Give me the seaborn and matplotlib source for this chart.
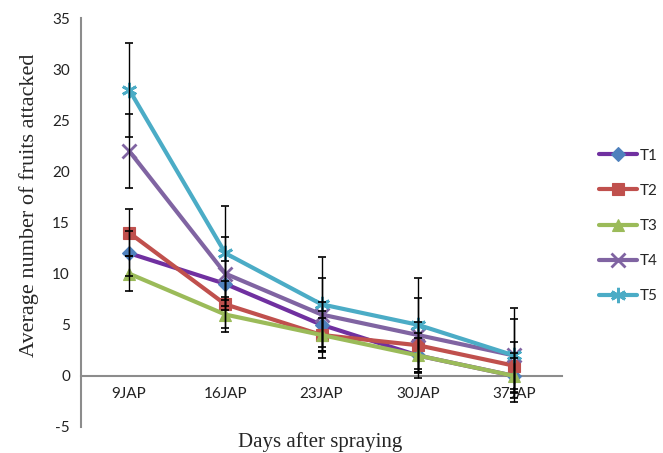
import matplotlib
matplotlib.use("Agg")
import matplotlib.pyplot as plt
import seaborn as sns
import pandas as pd
import numpy as np

days = ["9JAP", "16JAP", "23JAP", "30JAP", "37JAP"]
series = ["T1", "T2", "T3", "T4", "T5"]
t1 = [12, 9, 5, 2, 0]
t2 = [14, 7, 4, 3, 1]
t3 = [10, 6, 4, 2, 0]
t4 = [22, 10, 6, 4, 2]
t5 = [28, 12, 7, 5, 2]
errors = [2.2, 2.3, 1.7, 3.6, 4.6]  # error bar half-length per series (read)
yticks = [-5, 0, 5, 10, 15, 20, 25, 30, 35]

values = [t1, t2, t3, t4, t5]
line_colors = ["#7030A0", "#C0504D", "#9BBB59", "#8064A2", "#4BACC6"]
face_colors = ["#4F81BD", "#C0504D", "#9BBB59", "#8064A2", "#4BACC6"]
markers = ["D", "s", "^", "x", (6, 2, 0)]
msizes = [7, 9, 9, 10, 11]

sns.set_style("white")
plt.rcParams["font.family"] = ["Lato", "DejaVu Sans"]

fig = plt.figure(figsize=(6.63, 4.53), dpi=100)
ax = fig.add_axes([81 / 663, 1 - 427 / 453, (562 - 81) / 663, (427 - 18) / 453])

rows = []
for s, vals in zip(series, values):
    for i, (d, v) in enumerate(zip(days, vals)):
        rows.append({"Day": d, "pos": i, "Value": v, "Series": s})
df = pd.DataFrame(rows)

for k, s in enumerate(series):
    sub = df[df["Series"] == s]
    sns.lineplot(data=sub, x="pos", y="Value", ax=ax, color=line_colors[k],
                 linewidth=3.0, marker=markers[k], markersize=msizes[k],
                 markerfacecolor=face_colors[k], markeredgecolor=face_colors[k],
                 markeredgewidth=2.0 if markers[k] in ("x",) or isinstance(markers[k], tuple) else 0.8,
                 label=s, zorder=3 + k)
    ax.errorbar(sub["pos"], sub["Value"], yerr=errors[k], fmt="none",
                ecolor="black", elinewidth=1.0, capsize=3.0, capthick=1.2, zorder=10)

ax.set_xlim(-0.5, 4.5)
ax.set_ylim(-5, 35)
ax.set_yticks(yticks)
ax.set_yticklabels([str(t) for t in yticks], fontsize=11, color="#222222")

# x-axis at y=0 with ticks between categories
ax.spines["bottom"].set_position(("data", 0))
ax.spines["top"].set_visible(False)
ax.spines["right"].set_visible(False)
for sp in ("left", "bottom"):
    ax.spines[sp].set_color("#8C8C8C")
    ax.spines[sp].set_linewidth(1.5)
ax.set_xticks(np.arange(-0.5, 5, 1.0))
ax.set_xticklabels([])
ax.set_xticks(range(len(days)), minor=True)
ax.set_xticklabels(days, minor=True, fontsize=11, color="#222222")
ax.tick_params(axis="x", which="major", direction="out", length=5, width=1.3, color="#8C8C8C")
ax.tick_params(axis="x", which="minor", length=0, pad=8)
ax.tick_params(axis="y", direction="out", length=5, width=1.3, color="#8C8C8C", pad=3)

ax.set_xlabel("")
ax.set_ylabel("Average number of fruits attacked", fontsize=16,
              family=["Liberation Serif", "DejaVu Serif"])
ax.yaxis.set_label_coords(-0.088, (427 - 205) / 409)
fig.text(320 / 663, 1 - 442 / 453, "Days after spraying", fontsize=15,
         family=["Liberation Serif", "DejaVu Serif"], ha="center", va="center")

handles, labels = ax.get_legend_handles_labels()
leg = ax.legend(handles, labels, loc="upper left", bbox_to_anchor=(585 / 663, 1 - 135 / 453),
                bbox_transform=fig.transFigure, frameon=False, fontsize=11,
                handlelength=2.5, labelspacing=1.38, handletextpad=0.2)

fig.savefig("out.png", dpi=100)
